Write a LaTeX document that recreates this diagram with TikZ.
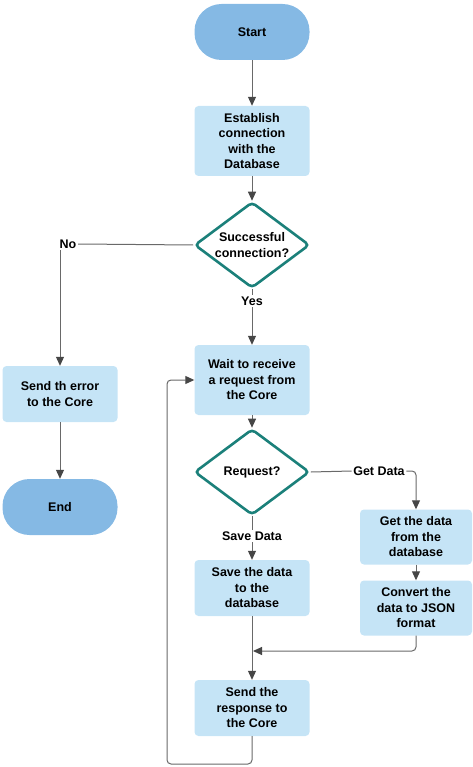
\documentclass[tikz,border=0pt]{standalone}
\usepackage{fontspec}
\setmainfont{Liberation Sans}
\usetikzlibrary{shapes.geometric,arrows.meta}
\definecolor{boxblue}{RGB}{197,228,246}
\definecolor{termblue}{RGB}{133,185,228}
\definecolor{dteal}{RGB}{27,128,122}
\definecolor{linegray}{RGB}{105,105,105}
\definecolor{tipgray}{RGB}{70,70,70}
\begin{document}
\begin{tikzpicture}[x=1pt,y=-1pt,
  font=\fontsize{12.5}{15.5}\selectfont\bfseries,
  box/.style={fill=boxblue, rounded corners=4pt, align=center, minimum width=115pt, minimum height=56pt, inner sep=0pt},
  term/.style={fill=termblue, rounded corners=27pt, minimum width=115pt, minimum height=56pt, inner sep=0pt},
  dec/.style={diamond, draw=dteal, line width=2.6pt, fill=white, minimum width=115pt, minimum height=86pt, inner sep=0pt, rounded corners=4pt},
  dtext/.style={align=center, inner sep=0pt},
  lab/.style={inner sep=1.5pt},
  conn/.style={draw=linegray, line width=1pt},
  arr/.style={conn, -{Triangle[length=9pt,width=8pt,fill=tipgray,color=tipgray]}}
]
\useasboundingbox (0,0) rectangle (472,767);
% nodes
\node[term] (start) at (252,32) {Start};
\node[box, minimum height=70pt] (est) at (252,141) {Establish\\connection\\with the\\Database};
\node[dec] (d1) at (252,245) {};
\node[dtext] (d1t) at (d1) {Successful\\connection?};
\node[lab] (no) at (68,244) {No};
\node[lab] (yes) at (252,301) {Yes};
\node[box, minimum height=70pt] (wait) at (252,380) {Wait to receive\\a request from\\the Core};
\node[box] (err) at (60,394) {Send th error\\to the Core};
\node[term] (end) at (60,507) {End};
\node[dec] (d2) at (252,472) {};
\node[dtext] (d2t) at (d2) {Request?};
\node[lab] (getl) at (379,471) {Get Data};
\node[lab] (savel) at (252,536) {Save Data};
\node[box, minimum width=112pt, minimum height=55pt] (get) at (416,537) {Get the data\\from the\\database};
\node[box, minimum width=112pt, minimum height=55pt] (conv) at (416,608) {Convert the\\data to JSON\\format};
\node[box] (save) at (252,588) {Save the data\\to the\\database};
\node[box] (resp) at (252,708) {Send the\\response to\\the Core};
\coordinate (loopbl) at (167,764);
\coordinate (mrg) at (253,651);
% connectors
\draw[arr] (start) -- (est);
\draw[arr] (est) -- (d1.north);
\draw[conn] (d1.west) -- (no.east);
\draw[arr] (no.south -| err.north) -- (err.north);
\draw[arr] (err) -- (end);
\draw[conn] (d1.south) -- (yes.north);
\draw[arr] (yes.south) -- (wait.north);
\draw[arr] (wait) -- (d2.north);
\draw[conn] (d2.east) -- (getl.west);
\draw[arr, rounded corners=4pt] (getl.east) -| (get.north);
\draw[arr] (get) -- (conv);
\draw[conn] (d2.south) -- (savel.north);
\draw[arr] (savel.south) -- (save.north);
\draw[arr] (save) -- (resp);
\draw[arr, rounded corners=4pt] (conv.south) |- (mrg);
\draw[arr, rounded corners=4pt] (resp.south) |- (loopbl) |- (wait.west);
\end{tikzpicture}
\end{document}
